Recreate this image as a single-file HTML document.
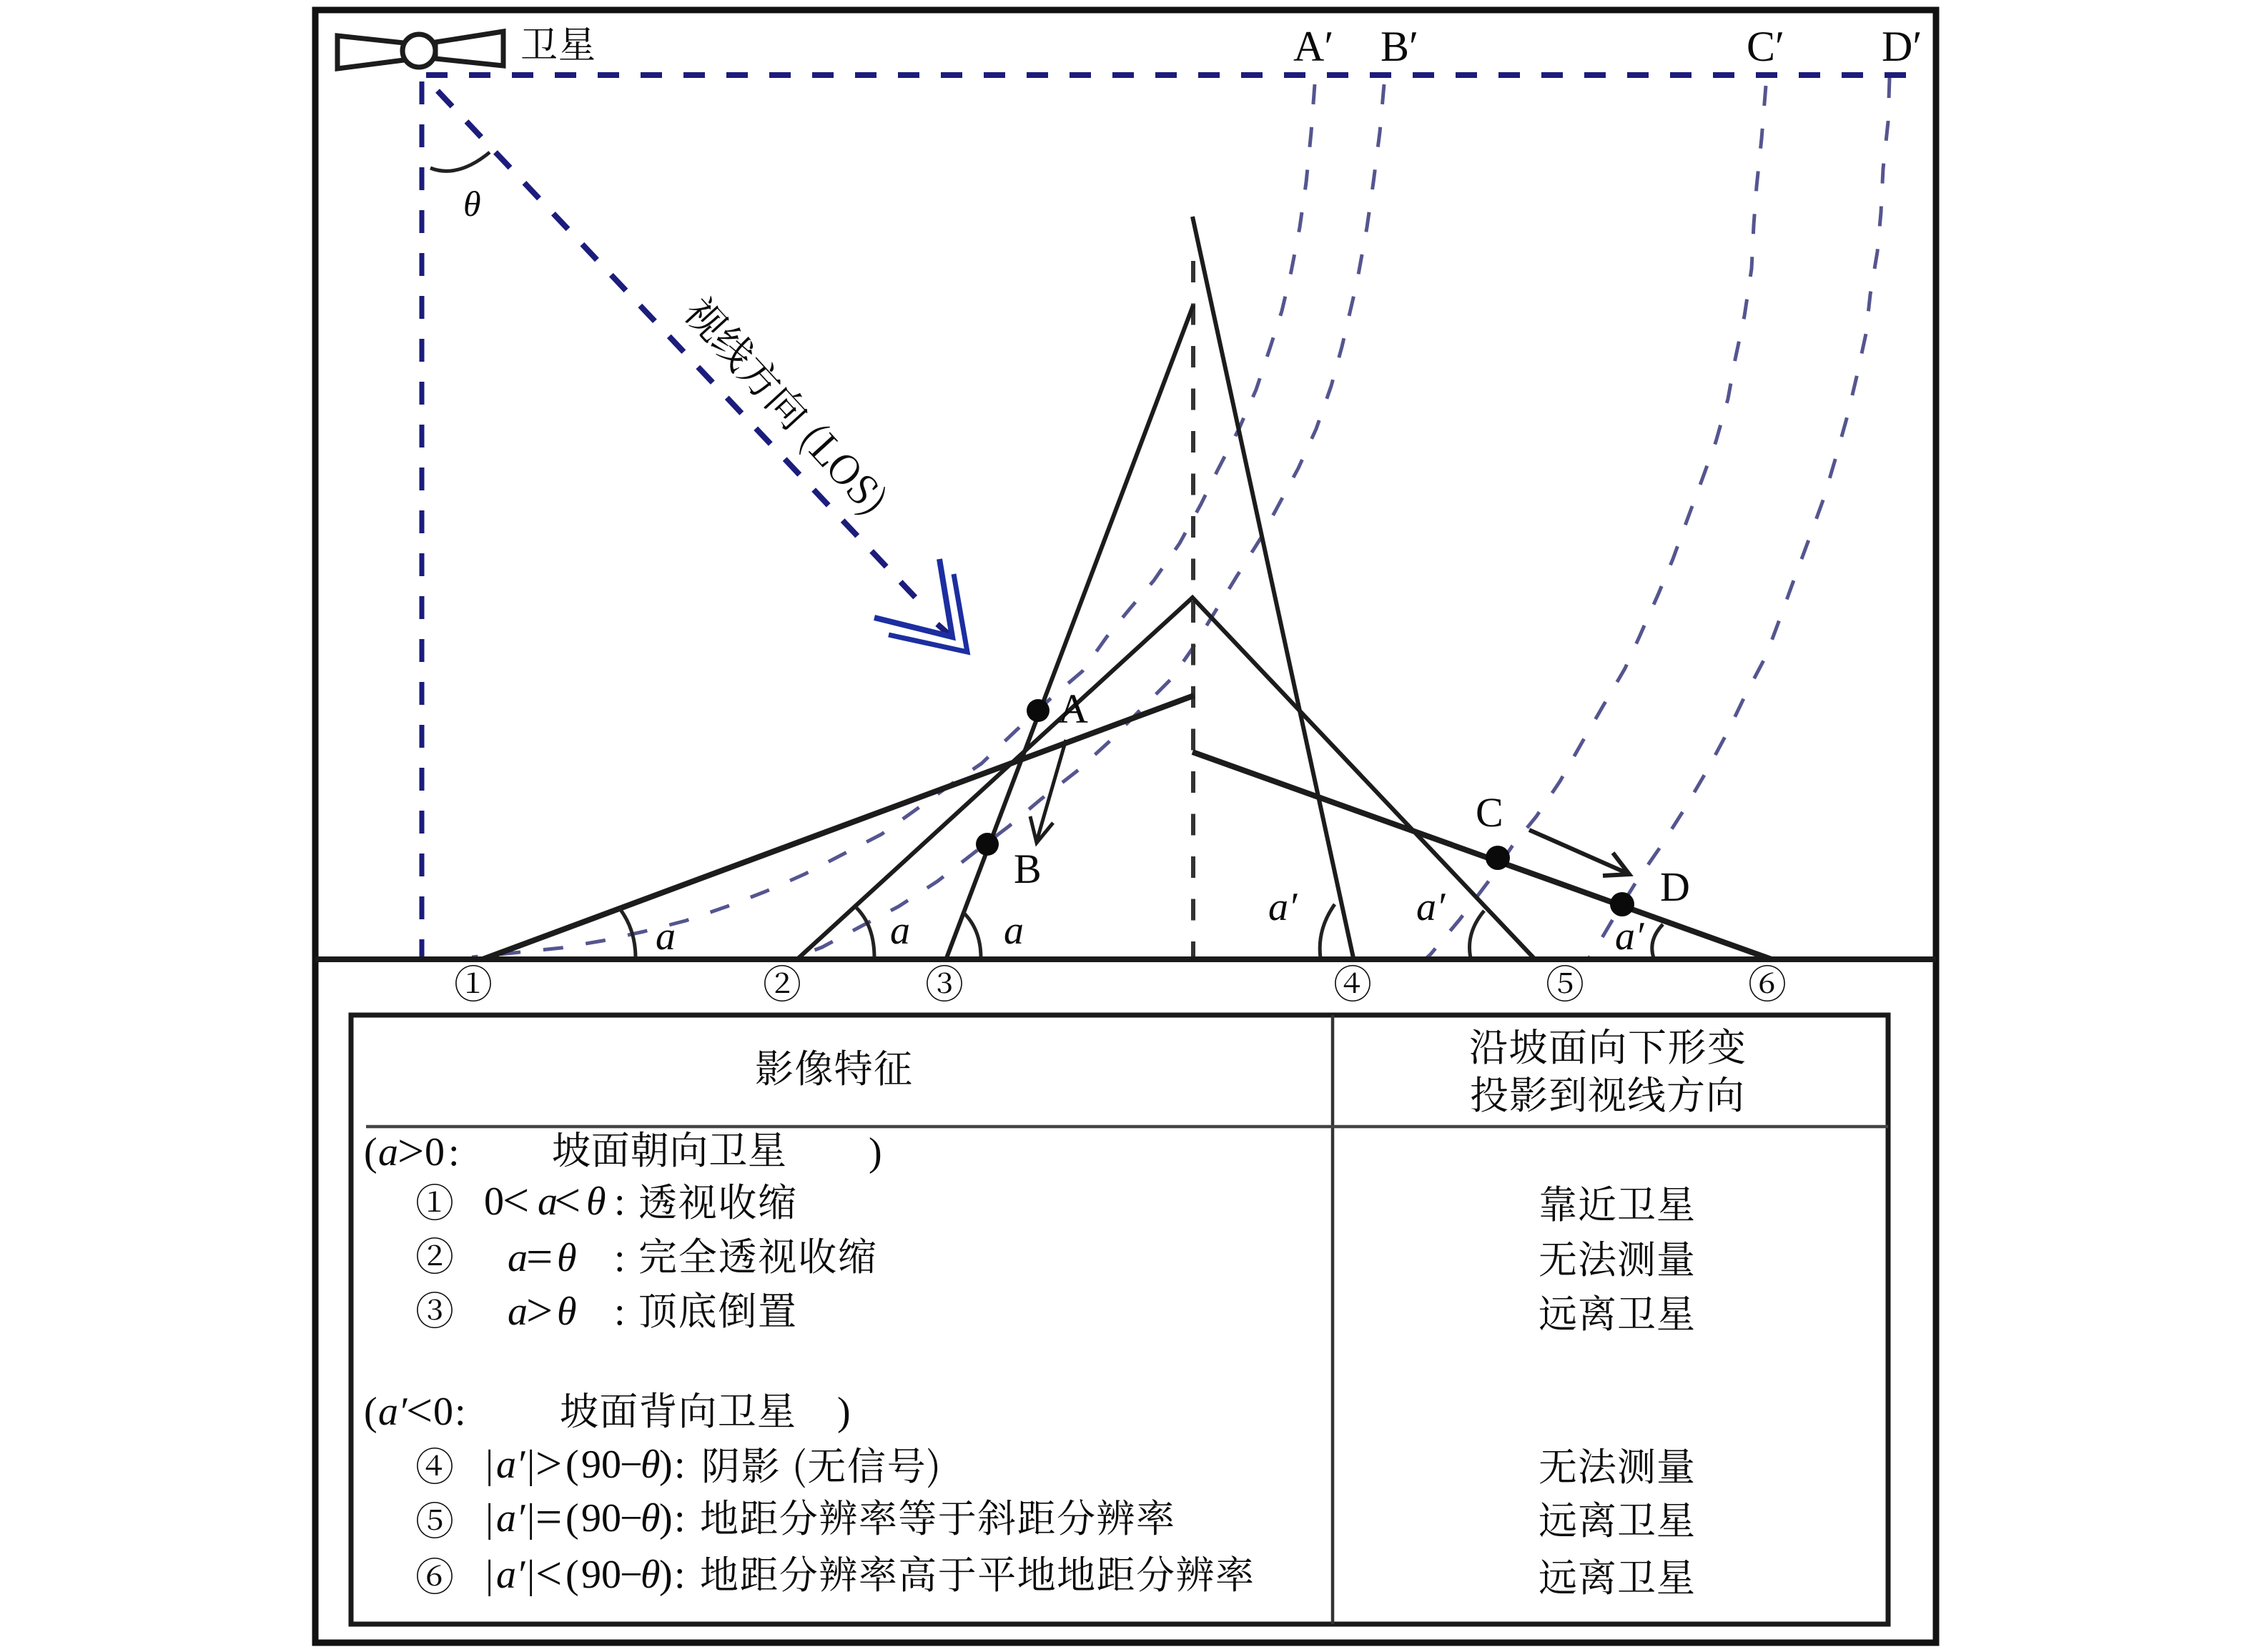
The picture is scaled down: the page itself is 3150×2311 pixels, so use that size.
<!DOCTYPE html>
<html lang="zh"><head><meta charset="utf-8"><title>坡面几何畸变示意图</title>
<style>
html,body{margin:0;padding:0;background:#fff}
svg{display:block}
text{fill:#0a0a0a;font-family:"Liberation Serif","Noto Serif CJK SC",serif;font-size:56px}
.c{font-family:"Noto Serif CJK SC","Liberation Serif",serif;font-size:54px}
.i{font-style:italic}
.n{font-family:"Noto Serif CJK SC",serif;font-size:54px;text-anchor:middle}
.o{font-size:66px}
.L{font-size:60px}
.P{font-size:58px}
.sl{fill:none;stroke:#1c1c1c;stroke-linecap:butt}
.cv{fill:none;stroke:#55558f;stroke-width:5;stroke-dasharray:28 32;stroke-linejoin:round}
.bl{fill:none;stroke:#1c1c7c;stroke-width:8;stroke-dasharray:32 28}
.arc{fill:none;stroke:#222;stroke-width:5}
</style></head><body>
<svg xmlns="http://www.w3.org/2000/svg" width="3150" height="2311" viewBox="0 0 3150 2311">
<rect width="3150" height="2311" fill="#fff"/>

<!-- curved range lines -->
<polyline class="cv" points="1839,118 1834,185 1827,255 1818,318 1806,380 1793,435 1777,485 1757,545 1733,600 1703,658 1680,705 1650,760 1614,812 1580,852 1548,891 1514,939 1473,974 1420,1023 1373,1068 1332,1096 1282,1132 1233,1167 1179,1195 1125,1223 1071,1247 1017,1268 959,1288 901,1303 843,1316 785,1326 718,1333 660,1339"/>
<polyline class="cv" points="1936,118 1930,185 1921,255 1912,318 1898,395 1877,485 1862,540 1841,600 1816,655 1787,709 1764,752 1730,806 1700,855 1668,907 1639,949 1597,991 1552,1037 1506,1079 1456,1118 1411,1156 1365,1191 1311,1233 1257,1268 1204,1296 1150,1325 1100,1344"/>
<polyline class="cv" points="2470,120 2464,194 2457,261 2453,315 2450,376 2440,442 2427,503 2417,558 2400,618 2380,673 2360,727 2340,782 2320,830 2293,891 2273,935 2242,988 2212,1040 2182,1093 2149,1142 2115,1184 2082,1233 2042,1286 2001,1335 1991,1344"/>
<polyline class="cv" points="2643,109 2641,170 2634,236 2631,297 2626,352 2616,412 2610,467 2597,527 2584,582 2569,636 2551,697 2530,755 2510,809 2489,867 2470,918 2440,975 2417,1023 2387,1079 2356,1132 2323,1184 2289,1233 2256,1286 2229,1332 2219,1344"/>

<!-- blue dashed lines -->
<line class="bl" x1="596" y1="105" x2="2668" y2="105" style="stroke-dasharray:30 30"/>
<line class="bl" x1="590" y1="114" x2="590" y2="1342" style="stroke-width:7"/>
<line class="bl" x1="612" y1="127" x2="1289" y2="845" style="stroke-dasharray:30 29"/>
<line x1="1311" y1="873" x2="1328" y2="888" stroke="#1c1c7c" stroke-width="8"/>
<polyline points="1314,782 1332,891 1223,864" fill="none" stroke="#1c2ea0" stroke-width="8"/>
<polyline points="1334,803 1353,912 1243,888" fill="none" stroke="#1c2ea0" stroke-width="7"/>

<!-- centre dashed -->
<line x1="1669" y1="365" x2="1669" y2="1340" stroke="#333" stroke-width="6" stroke-dasharray="30 29.5"/>

<!-- slopes -->
<line class="sl" x1="1668" y1="303" x2="1893" y2="1340" stroke-width="6"/>
<line class="sl" x1="1669" y1="427" x2="1324" y2="1340" stroke-width="6"/>
<polyline class="sl" points="1115,1342 1668,836 2149,1344" stroke-width="6"/>
<line class="sl" x1="1670" y1="973" x2="675" y2="1342" stroke-width="8"/>
<line class="sl" x1="1668" y1="1052" x2="2478" y2="1342" stroke-width="8"/>

<!-- arcs -->
<path class="arc" d="M602,235 Q640,250 685,213"/>
<path class="arc" d="M866,1270 Q889,1300 889,1340"/>
<path class="arc" d="M1198,1270 Q1223,1295 1223,1340"/>
<path class="arc" d="M1347,1276 Q1372,1300 1372,1340"/>
<path class="arc" d="M1867,1265 Q1842,1300 1847,1340"/>
<path class="arc" d="M2076,1274 Q2050,1305 2057,1340"/>
<path class="arc" d="M2326,1293 Q2305,1315 2313,1340"/>

<!-- dots & arrows -->
<circle cx="1452" cy="994" r="16" fill="#0a0a0a"/>
<circle cx="1381" cy="1181" r="16" fill="#0a0a0a"/>
<circle cx="2095" cy="1200" r="17" fill="#0a0a0a"/>
<circle cx="2269" cy="1265" r="17" fill="#0a0a0a"/>
<line x1="1491" y1="1035" x2="1450" y2="1177" stroke="#1c1c1c" stroke-width="5"/>
<polyline points="1441,1142 1450,1179 1473,1151" fill="none" stroke="#1c1c1c" stroke-width="5"/>
<line x1="2139" y1="1161" x2="2277" y2="1222" stroke="#1c1c1c" stroke-width="6"/>
<polyline points="2256,1193 2279,1223 2242,1225" fill="none" stroke="#1c1c1c" stroke-width="6"/>

<!-- frame -->
<rect x="441" y="14" width="2267" height="2284" fill="none" stroke="#111" stroke-width="9"/>
<line x1="441" y1="1342" x2="2708" y2="1342" stroke="#1a1a1a" stroke-width="8"/>

<!-- satellite -->
<polygon points="472,50 565,60 565,84 472,96" fill="#fff" stroke="#1c1c1c" stroke-width="7"/>
<polygon points="704,44 609,59 609,82 704,92" fill="#fff" stroke="#1c1c1c" stroke-width="7"/>
<circle cx="586" cy="71" r="23" fill="#fff" stroke="#1c1c1c" stroke-width="7"/>
<text class="c" x="728" y="81" textLength="105" style="font-size:52px">卫星</text>

<!-- top labels -->
<text class="L" x="1809" y="85">A′</text>
<text class="L" x="1931" y="85">B′</text>
<text class="L" x="2443" y="85">C′</text>
<text class="L" x="2632" y="85">D′</text>
<text class="i" x="648" y="302" style="font-size:50px">θ</text>
<text class="c" transform="translate(1085,582) rotate(47.5)" text-anchor="middle" style="font-size:56px" xml:space="preserve">视线方向 (LOS)</text>

<!-- point labels -->
<text class="P" x="1480" y="1011">A</text>
<text class="P" x="1418" y="1235">B</text>
<text class="P" x="2064" y="1156">C</text>
<text class="P" x="2322" y="1260">D</text>

<!-- angle labels -->
<text class="i" x="917" y="1328">a</text>
<text class="i" x="1245" y="1320">a</text>
<text class="i" x="1404" y="1320">a</text>
<text class="i" x="1774" y="1287">a′</text>
<text class="i" x="1981" y="1287">a′</text>
<text class="i" x="2259" y="1328">a′</text>

<!-- circled numbers -->
<text class="n" x="662" y="1396">①</text>
<text class="n" x="1094" y="1396">②</text>
<text class="n" x="1321" y="1396">③</text>
<text class="n" x="1892" y="1396">④</text>
<text class="n" x="2189" y="1396">⑤</text>
<text class="n" x="2472" y="1396">⑥</text>

<!-- table -->
<rect x="491" y="1420" width="2150" height="852" fill="none" stroke="#1a1a1a" stroke-width="7"/>
<line x1="1864" y1="1420" x2="1864" y2="2272" stroke="#333" stroke-width="4.5"/>
<line x1="512" y1="1576" x2="2641" y2="1576" stroke="#444" stroke-width="4.5"/>

<text class="c" x="1056" y="1514" textLength="220">影像特征</text>
<text class="c" x="2055" y="1484" textLength="387">沿坡面向下形变</text>
<text class="c" x="2056" y="1551" textLength="384">投影到视线方向</text>

<!-- group 1 -->
<text x="509" y="1630">(</text><text class="i" x="529" y="1630">a</text><text class="o" x="556" y="1632">&gt;</text><text x="594" y="1630">0</text><text x="627" y="1630">:</text>
<text class="c" x="772" y="1628" textLength="328">坡面朝向卫星</text>
<text x="1215" y="1630">)</text>

<text class="n" x="608" y="1702">①</text>
<text x="677" y="1699">0</text><text class="o" x="703" y="1701">&lt;</text><text class="i" x="752" y="1699">a</text><text class="o" x="775" y="1701">&lt;</text><text class="i" x="820" y="1699">θ</text><text x="859" y="1699">:</text>
<text class="c" x="893" y="1701" textLength="221">透视收缩</text>

<text class="n" x="608" y="1777">②</text>
<text class="i" x="710" y="1778">a</text><text class="o" x="736" y="1780">=</text><text class="i" x="779" y="1778">θ</text><text x="859" y="1778">:</text>
<text class="c" x="893" y="1777" textLength="333">完全透视收缩</text>

<text class="n" x="608" y="1853">③</text>
<text class="i" x="710" y="1853">a</text><text class="o" x="736" y="1855">&gt;</text><text class="i" x="779" y="1853">θ</text><text x="859" y="1853">:</text>
<text class="c" x="893" y="1853" textLength="221">顶底倒置</text>

<!-- group 2 -->
<text x="509" y="1993">(</text><text class="i" x="529" y="1993">a′</text><text class="o" x="568" y="1995">&lt;</text><text x="606" y="1993">0</text><text x="636" y="1993">:</text>
<text class="c" x="783" y="1993" textLength="330">坡面背向卫星</text>
<text x="1171" y="1993">)</text>

<text class="n" x="608" y="2071">④</text>
<text x="679" y="2067">|</text><text class="i" x="694" y="2067">a′</text><text x="737" y="2067">|</text><text class="o" x="749" y="2069">&gt;</text><text x="791" y="2067">(</text><text x="813" y="2067">90</text><text x="867" y="2067">−</text><text class="i" x="896" y="2067">θ</text><text x="922" y="2067">)</text><text x="943" y="2067">:</text>
<text class="c" x="981" y="2070" textLength="335" xml:space="preserve">阴影 (无信号)</text>

<text class="n" x="608" y="2147">⑤</text>
<text x="679" y="2142">|</text><text class="i" x="694" y="2142">a′</text><text x="737" y="2142">|</text><text class="o" x="749" y="2144">=</text><text x="791" y="2142">(</text><text x="813" y="2142">90</text><text x="867" y="2142">−</text><text class="i" x="896" y="2142">θ</text><text x="922" y="2142">)</text><text x="943" y="2142">:</text>
<text class="c" x="979" y="2143" textLength="664">地距分辨率等于斜距分辨率</text>

<text class="n" x="608" y="2225">⑥</text>
<text x="679" y="2221">|</text><text class="i" x="694" y="2221">a′</text><text x="737" y="2221">|</text><text class="o" x="749" y="2223">&lt;</text><text x="791" y="2221">(</text><text x="813" y="2221">90</text><text x="867" y="2221">−</text><text class="i" x="896" y="2221">θ</text><text x="922" y="2221">)</text><text x="943" y="2221">:</text>
<text class="c" x="979" y="2222" textLength="775">地距分辨率高于平地地距分辨率</text>

<!-- right column -->
<text class="c" x="2152" y="1704" textLength="219">靠近卫星</text>
<text class="c" x="2152" y="1781" textLength="219">无法测量</text>
<text class="c" x="2152" y="1857" textLength="219">远离卫星</text>
<text class="c" x="2152" y="2071" textLength="219">无法测量</text>
<text class="c" x="2152" y="2146" textLength="219">远离卫星</text>
<text class="c" x="2152" y="2226" textLength="219">远离卫星</text>
</svg>
</body></html>
